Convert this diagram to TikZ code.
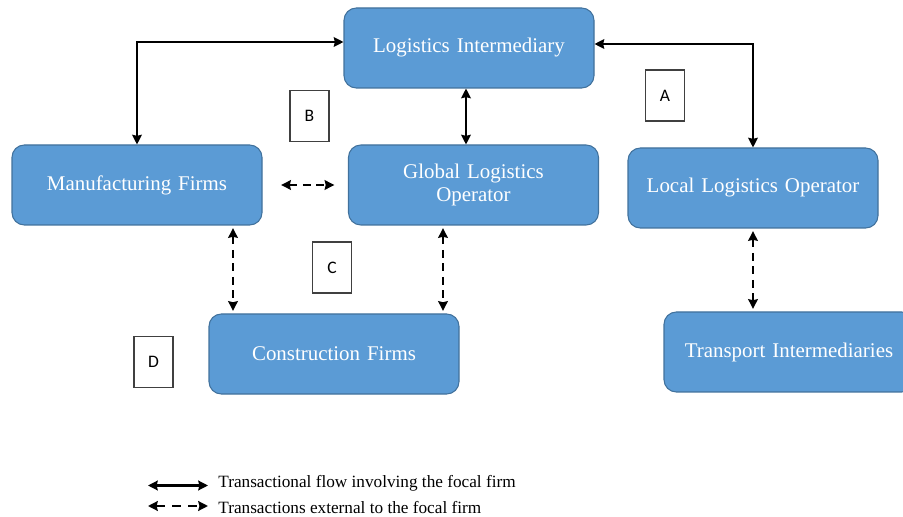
\documentclass[tikz,border=0pt]{standalone}
\usepackage{fontspec}
\setmainfont{Liberation Serif}
\newfontfamily\labelfont{Carlito}
\usepackage{xcolor}
\usepackage{tikz}
\usetikzlibrary{shapes.geometric, arrows.meta}
\definecolor{boxblue}{HTML}{5B9BD5}
\definecolor{boxedge}{HTML}{41719C}
\tikzstyle{firm} = [rectangle, rounded corners=7pt, minimum width=5cm, minimum height=1.6cm, text width=4.6cm, align=center, fill=boxblue, draw=boxedge, line width=0.6pt, text=white, font=\fontsize{11.9}{13.5}\selectfont]
\tikzstyle{tag} = [rectangle, minimum width=0.78cm, minimum height=1.02cm, draw=black!75, line width=0.6pt, font=\labelfont\fontsize{10}{11}\selectfont]
\tikzstyle{legend} = [anchor=west, inner sep=0pt, font=\fontsize{9.8}{11}\selectfont]
\tikzstyle{arrow} = [line width=1.1pt,<->,>={Stealth[length=5.5pt,width=5.5pt,inset=0.6pt]}]
\tikzstyle{dasharrow} = [arrow, dash pattern=on 4.5pt off 3.2pt, shorten <=1.5pt, shorten >=1.5pt]

\begin{document}
\begin{tikzpicture}[node distance=1.5cm]
    \useasboundingbox (0,0) rectangle (18.06,-10.34);
    \node (li) [firm] at (9.38,-0.96) {Logistics Intermediary};
    \node (glo) [firm, below of=li, xshift=0.09cm, yshift=-1.24cm] {Global Logistics\\Operator};
    \node (mf) [firm, left of=glo, xshift=-5.23cm] {Manufacturing Firms};
    \node (llo) [firm, right of=glo, xshift=4.09cm, yshift=-0.06cm] {Local Logistics Operator};
    \node (cf) [firm, below of=glo, xshift=-2.79cm, yshift=-1.88cm] {Construction Firms};
    \node (ti) [firm, below of=llo, xshift=0.72cm, yshift=-1.78cm] {Transport Intermediaries};

    \node (a) [tag] at (13.3,-1.91) {A};
    \node (b) [tag] at (6.19,-2.32) {B};
    \node (c) [tag] at (6.64,-5.35) {C};
    \node (d) [tag] at (3.07,-7.24) {D};

    \draw [arrow] ([yshift=0.12cm]li.west) -| (mf.north);
    \draw [arrow] ([yshift=0.08cm]li.east) -| (llo.north);
    \draw [arrow] ([xshift=-0.06cm]li.south) -- ([xshift=-0.06cm]li.south |- glo.north);
    \draw [dasharrow] ([xshift=0.32cm]mf.east) -- ([xshift=-0.22cm]glo.west);
    \draw [dasharrow] ([xshift=1.92cm]mf.south) -- ([xshift=1.92cm]mf.south |- cf.north);
    \draw [dasharrow] ([xshift=-0.61cm]glo.south) -- ([xshift=-0.61cm]glo.south |- cf.north);
    \draw [dasharrow] (llo.south) -- (llo.south |- ti.north);

    % legend
    \node (leg1) [legend] at (4.36,-9.66) {Transactional flow involving the focal firm};
    \node (leg2) [legend] at (4.36,-10.16) {Transactions external to the focal firm};
    \coordinate (s1) at (2.96,-9.71);
    \coordinate (e1) at (4.16,-9.71);
    \coordinate (s2) at (2.96,-10.12);
    \coordinate (e2) at (4.16,-10.12);
    \draw [arrow, line width=1.4pt] (s1) -- (e1);
    \draw [arrow, line width=1.4pt, dash pattern=on 5pt off 4.2pt] (s2) -- (e2);
\end{tikzpicture}
\end{document}
